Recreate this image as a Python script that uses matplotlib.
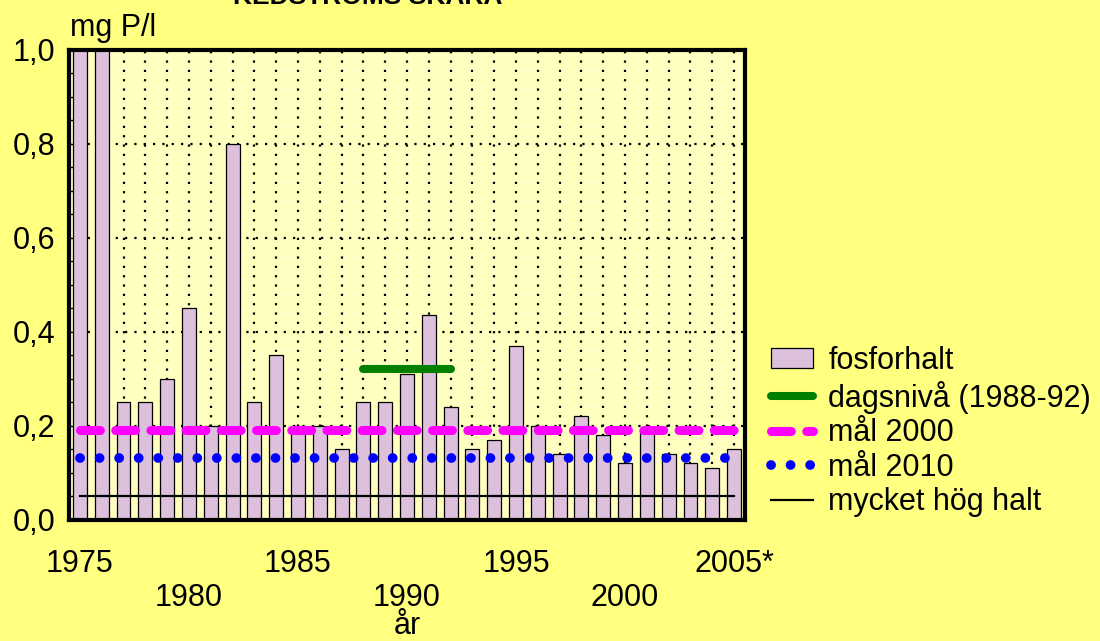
import numpy as np
import matplotlib
matplotlib.use("Agg")
import matplotlib.pyplot as plt
from matplotlib.ticker import MultipleLocator, FixedLocator

plt.rcParams["font.family"] = ["Liberation Sans", "DejaVu Sans"]

# data
years = list(range(1975, 2006))
fosforhalt = [1.20, 1.10, 0.25, 0.25, 0.30, 0.45, 0.20, 0.80, 0.25, 0.35,
              0.20, 0.20, 0.15, 0.25, 0.25, 0.31, 0.435, 0.24, 0.15, 0.17,
              0.37, 0.20, 0.14, 0.22, 0.18, 0.12, 0.19, 0.14, 0.12, 0.11,
              0.15]
dagsniva_years = [1988, 1992]
dagsniva = 0.32
mal_2000 = 0.19
mal_2010 = 0.13
mycket_hog = 0.05

row1_years = [1975, 1985, 1995, 2005]
row1_labels = ["1975", "1985", "1995", "2005*"]
row2_years = [1980, 1990, 2000]
row2_labels = ["1980", "1990", "2000"]

FIG_BG = "#FFFF80"
AX_BG = "#FFFFC0"

fig = plt.figure(figsize=(11, 6.41), dpi=100, facecolor=FIG_BG)
ax = fig.add_axes([69 / 1100, 1 - 519.5 / 641, 676 / 1100, 469.5 / 641])
ax.set_facecolor(AX_BG)

x = np.arange(len(years))
idx = {y: i for i, y in enumerate(years)}

# grid behind the bars
grid_kw = dict(color="black", lw=1.6, linestyle=(0, (1, 3.2)), zorder=1)
for xi in x:
    ax.axvline(xi, **grid_kw)
for yv in [0.2, 0.4, 0.6, 0.8]:
    ax.axhline(yv, **grid_kw)

bars = ax.bar(x, fosforhalt, width=0.64, color="#dcc0dc", edgecolor="black",
              linewidth=0.9, zorder=2, label="fosforhalt")

ax.plot([idx[dagsniva_years[0]], idx[dagsniva_years[1]]], [dagsniva] * 2,
        color="#008000", lw=5.8, solid_capstyle="round", zorder=4,
        label="dagsnivå (1988-92)")
ax.plot([x[0], x[-1]], [mal_2000] * 2, color="#FF00FF", lw=6.5,
        dashes=(2.2, 1.7), dash_capstyle="round", zorder=4, label="mål 2000")
ax.plot([x[0], x[-1]], [mal_2010] * 2, color="#0000FF", lw=7,
        dashes=(0.01, 2.0), dash_capstyle="round", zorder=4, label="mål 2010")
ax.plot([x[0], x[-1]], [mycket_hog] * 2, color="black", lw=1.6, zorder=4,
        label="mycket hög halt")

ax.set_xlim(-0.5, len(years) - 0.5)
ax.set_ylim(0, 1.0)

ax.yaxis.set_major_locator(MultipleLocator(0.2))
ax.yaxis.set_minor_locator(MultipleLocator(0.05))
ax.set_yticklabels([f"{v:.1f}".replace(".", ",") for v in ax.get_yticks()])
ax.tick_params(axis="y", which="both", direction="in", length=3, width=1,
               labelsize=22, pad=10)

ax.xaxis.set_major_locator(FixedLocator([idx[y] for y in row1_years]))
ax.xaxis.set_minor_locator(FixedLocator([idx[y] for y in row2_years]))
ax.set_xticklabels(row1_labels)
ax.set_xticklabels(row2_labels, minor=True)
ax.tick_params(axis="x", which="major", length=0, labelsize=22, pad=21)
ax.tick_params(axis="x", which="minor", length=0, labelsize=22, pad=46)

for s in ax.spines.values():
    s.set_linewidth(3)
    s.set_zorder(6)

fig.text(70 / 1100, 1 - 36 / 641, "mg P/l", fontsize=22, va="baseline")
fig.text(407 / 1100, 1 - 634 / 641, "år", fontsize=22, ha="center",
         va="baseline")
fig.text(233 / 1100, 1 - 4 / 641, "KEDSTRÖMS SKÅRA", fontsize=19,
         fontweight="bold", va="baseline")

handles, labels = ax.get_legend_handles_labels()
order = [labels.index("fosforhalt")] + [i for i, l in enumerate(labels)
                                        if l != "fosforhalt"]
fig.legend([handles[i] for i in order], [labels[i] for i in order],
           loc="upper left", bbox_to_anchor=(771 / 1100, 1 - 346 / 641),
           frameon=False, fontsize=22, borderpad=0, borderaxespad=0,
           handlelength=1.37, handleheight=0.65, handletextpad=0.5,
           labelspacing=0.15)

fig.savefig("out.png", dpi=100, facecolor=FIG_BG)
